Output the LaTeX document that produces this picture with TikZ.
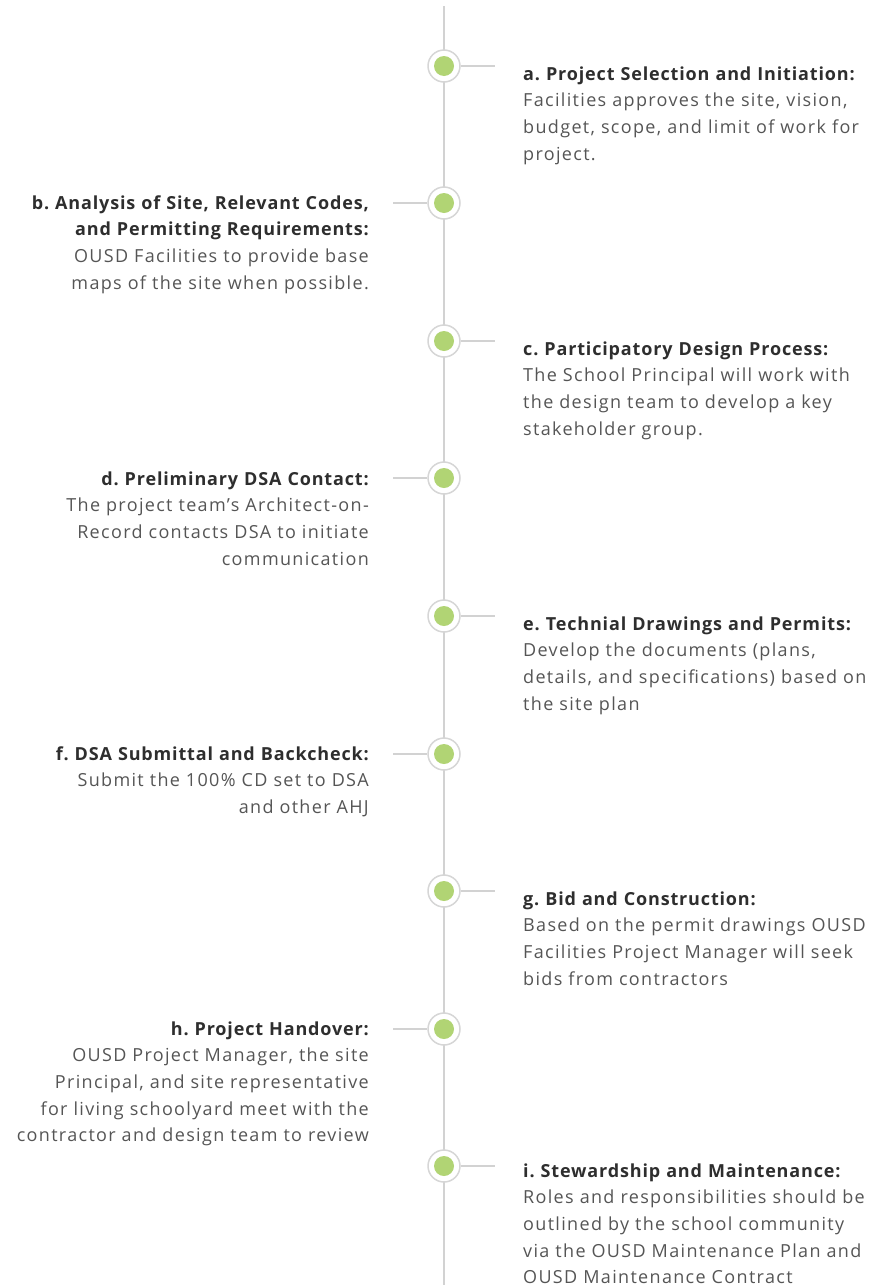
\documentclass[tikz,border=0pt]{standalone}
\usepackage{fontspec}
\setmainfont{Open Sans}[LetterSpace=7.4]
\newfontfamily\titlefont{Open Sans}[LetterSpace=4.7]
\frenchspacing
\definecolor{linegray}{HTML}{D2D2D2}
\definecolor{ringgray}{HTML}{D6D6D6}
\definecolor{dotgreen}{HTML}{B1D474}
\definecolor{titlecol}{HTML}{2E2E2E}
\definecolor{bodycol}{HTML}{555555}
\tikzset{
  ring/.style={circle, draw=ringgray, line width=1.5pt, fill=white, minimum size=32pt, inner sep=0pt},
  conn/.style={draw=linegray, line width=1.5pt},
  rtext/.style={anchor=base west, inner sep=0pt, text width=368pt, align=left, font=\fontsize{18}{26.7}\selectfont, text=bodycol},
  ltext/.style={anchor=base east, inner sep=0pt, text width=369pt, align=right, font=\fontsize{18}{26.7}\selectfont, text=bodycol},
}
\newcommand{\ttl}[1]{{\titlefont\bfseries\color{titlecol}#1}}
\begin{document}
\begin{tikzpicture}[x=1pt,y=-1pt]
\useasboundingbox (0,0) rectangle (891,1285);
\coordinate (top) at (444,6);
\coordinate (bot) at (444,1285);
\draw[conn] (top) -- (bot);
% circles
\node[ring] (ca) at (444,66) {};
\node[ring] (cb) at (444,203) {};
\node[ring] (cc) at (444,341) {};
\node[ring] (cd) at (444,478) {};
\node[ring] (ce) at (444,616) {};
\node[ring] (cf) at (444,754) {};
\node[ring] (cg) at (444,891) {};
\node[ring] (ch) at (444,1029) {};
\node[ring] (ci) at (444,1166) {};
\foreach \c in {ca,cb,cc,cd,ce,cf,cg,ch,ci} \fill[dotgreen] (\c) circle (10);
% ticks
\foreach \c in {ca,cc,ce,cg,ci} \draw[conn] (\c.east) -- ++(34,0);
\foreach \c in {cb,cd,cf,ch} \draw[conn] (\c.west) -- ++(-34,0);
% texts right
\node[rtext] (ta) at (523,80) {\ttl{a. Project Selection and Initiation:}\\
Facilities approves the site, vision,\\ budget, scope, and limit of work for\\ project.};
\node[rtext] (tc) at (523,355) {\ttl{c. Participatory Design Process:}\\
The School Principal will work with\\ the design team to develop a key\\ stakeholder group.};
\node[rtext] (te) at (523,630) {\ttl{e. Technial Drawings and Permits:}\\
Develop the documents (plans,\\ details, and specifications) based on\\ the site plan};
\node[rtext] (tg) at (523,905) {\ttl{g. Bid and Construction:}\\
Based on the permit drawings OUSD\\ Facilities Project Manager will seek\\ bids from contractors};
\node[rtext] (ti) at (523,1177) {\ttl{i. Stewardship and Maintenance:}\\
Roles and responsibilities should be\\ outlined by the school community\\ via the OUSD Maintenance Plan and\\ OUSD Maintenance Contract};
% texts left
\node[ltext] (tb) at (369,209) {\ttl{b. Analysis of Site, Relevant Codes,}\\ \ttl{and Permitting Requirements:}\\
OUSD Facilities to provide base\\ maps of the site when possible.};
\node[ltext] (td) at (369,485) {\ttl{d. Preliminary DSA Contact:}\\
The project team’s Architect-on-\\ Record contacts DSA to initiate\\ communication};
\node[ltext] (tf) at (369,760) {\ttl{f. DSA Submittal and Backcheck:}\\
Submit the 100\% CD set to DSA\\ and other AHJ};
\node[ltext] (th) at (369,1035) {\ttl{h. Project Handover:}\\
OUSD Project Manager, the site\\ Principal, and site representative\\ for living schoolyard meet with the\\ contractor and design team to review};
\end{tikzpicture}
\end{document}
